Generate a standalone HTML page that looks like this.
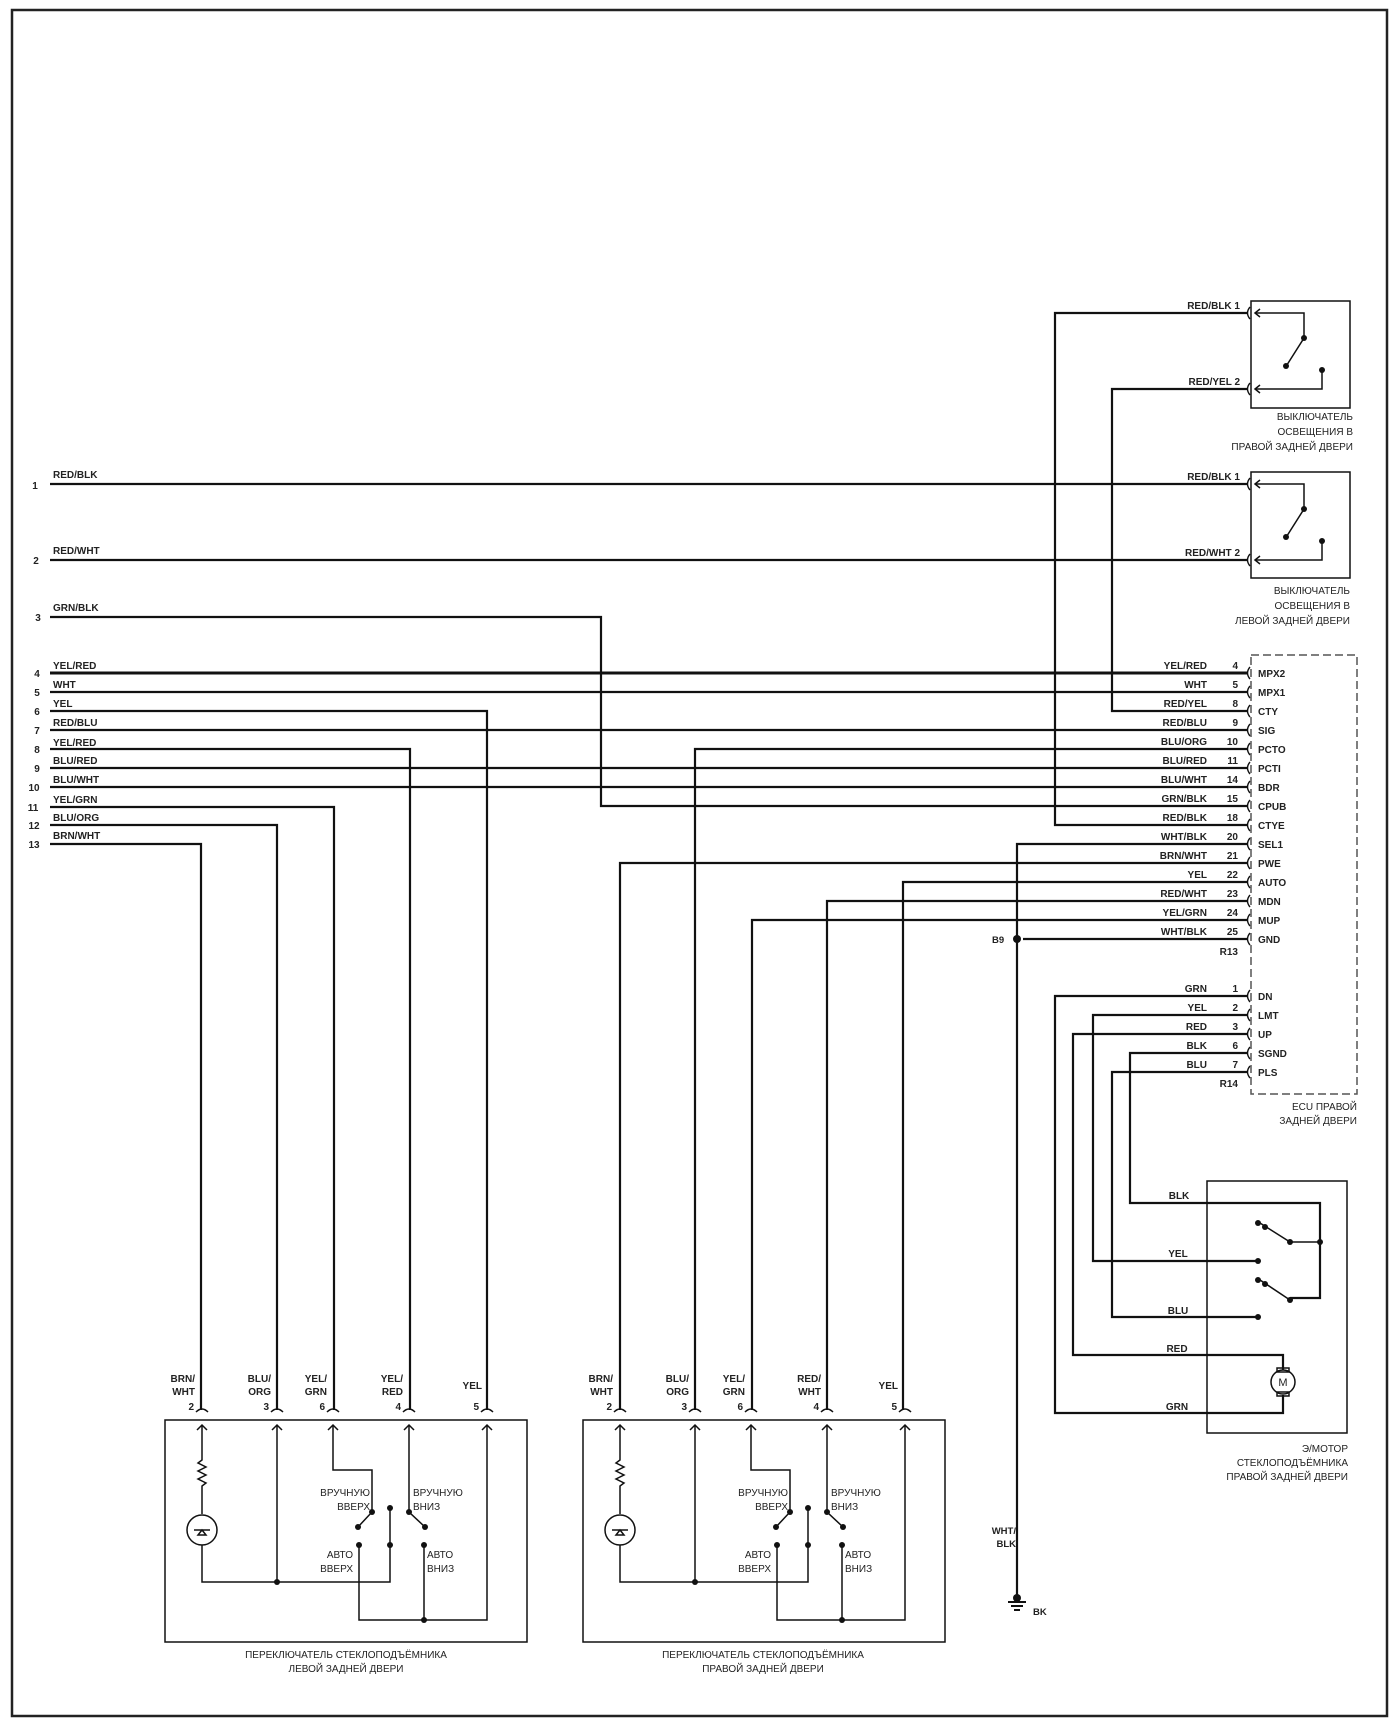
<!DOCTYPE html>
<html><head><meta charset="utf-8"><style>
html,body{margin:0;padding:0;background:#fff;}
svg{display:block;}
text{font-family:"Liberation Sans","DejaVu Sans",sans-serif;font-size:10px;fill:#222;}
.b{font-weight:bold;font-size:9.5px;}
.c{font-size:11px;}
</style></head><body>
<svg width="1400" height="1729" viewBox="0 0 1400 1729" xmlns="http://www.w3.org/2000/svg">
<rect x="12" y="10" width="1375" height="1706" fill="none" stroke="#222" stroke-width="2.5"/>
<g fill="none" stroke="#111" stroke-width="2.2">
<!-- left wires -->
<path d="M50 484H1247"/>
<path d="M50 560H1247"/>
<path d="M50 617H601V806H1247"/>
<path d="M50 673H1247" stroke-width="3"/>
<path d="M50 692H1247"/>
<path d="M50 711H487V1410"/>
<path d="M50 730H1247"/>
<path d="M50 749H410V1410"/>
<path d="M50 768H1247"/>
<path d="M50 787H1247"/>
<path d="M50 807H334V1410"/>
<path d="M50 825H277V1410"/>
<path d="M50 844H201V1410"/>
<!-- top switch wires -->
<path d="M1247 313H1055V825H1247"/>
<path d="M1247 389H1112V711H1247"/>
<!-- ECU to middle switch -->
<path d="M1247 749H695V1410"/>
<path d="M1247 863H620V1410"/>
<path d="M1247 882H903V1410"/>
<path d="M1247 901H827V1410"/>
<path d="M1247 920H752V1410"/>
<path d="M1247 844H1017V1600"/>
<path d="M1247 939H1023"/>
<!-- motor wires -->
<path d="M1247 996H1055V1413H1283V1395"/>
<path d="M1247 1015H1093V1261H1258"/>
<path d="M1247 1034H1073V1355H1283V1370"/>
<path d="M1247 1053H1130V1203H1320V1298H1290"/>
<path d="M1247 1072H1112V1317H1258"/>
</g>
<circle cx="1017" cy="939" r="4" fill="#111"/>
<text x="992" y="943" class="b">B9</text>
<!-- ground -->
<g stroke="#111" stroke-width="2" fill="none"><path d="M1008 1602H1026M1011 1606H1023M1014 1610H1020"/></g>
<circle cx="1017" cy="1598" r="4" fill="#111"/>
<text x="1033" y="1615" class="b">BK</text>
<text x="1016" y="1534" class="b" text-anchor="end">WHT/</text>
<text x="1016" y="1547" class="b" text-anchor="end">BLK</text>
<!-- left labels -->
<g class="b">
<text x="35" y="489" text-anchor="middle">1</text><text x="53" y="478">RED/BLK</text>
<text x="36" y="564" text-anchor="middle">2</text><text x="53" y="554">RED/WHT</text>
<text x="38" y="621" text-anchor="middle">3</text><text x="53" y="611">GRN/BLK</text>
<text x="37" y="677" text-anchor="middle">4</text><text x="53" y="669">YEL/RED</text>
<text x="37" y="696" text-anchor="middle">5</text><text x="53" y="688">WHT</text>
<text x="37" y="715" text-anchor="middle">6</text><text x="53" y="707">YEL</text>
<text x="37" y="734" text-anchor="middle">7</text><text x="53" y="726">RED/BLU</text>
<text x="37" y="753" text-anchor="middle">8</text><text x="53" y="746">YEL/RED</text>
<text x="37" y="772" text-anchor="middle">9</text><text x="53" y="764">BLU/RED</text>
<text x="34" y="791" text-anchor="middle">10</text><text x="53" y="783">BLU/WHT</text>
<text x="33" y="811" text-anchor="middle">11</text><text x="53" y="803">YEL/GRN</text>
<text x="34" y="829" text-anchor="middle">12</text><text x="53" y="821">BLU/ORG</text>
<text x="34" y="848" text-anchor="middle">13</text><text x="53" y="839">BRN/WHT</text>
</g>
<!-- connector arcs ECU and switches -->
<g fill="none" stroke="#111" stroke-width="1.5">
<path id="cn" d="M1252 0"/>
</g>
<g fill="none" stroke="#111" stroke-width="1.4">
<path d="M1250 307q-5 6 0 12M1250 383q-5 6 0 12M1250 478q-5 6 0 12M1250 554q-5 6 0 12"/>
<path d="M1250 667q-5 6 0 12M1250 686q-5 6 0 12M1250 705q-5 6 0 12M1250 724q-5 6 0 12M1250 743q-5 6 0 12M1250 762q-5 6 0 12M1250 781q-5 6 0 12M1250 800q-5 6 0 12M1250 819q-5 6 0 12M1250 838q-5 6 0 12M1250 857q-5 6 0 12M1250 876q-5 6 0 12M1250 895q-5 6 0 12M1250 914q-5 6 0 12M1250 933q-5 6 0 12"/>
<path d="M1250 990q-5 6 0 12M1250 1009q-5 6 0 12M1250 1028q-5 6 0 12M1250 1047q-5 6 0 12M1250 1066q-5 6 0 12"/>
</g>
<!-- top light switch -->
<g fill="none" stroke="#111" stroke-width="1.5">
<rect x="1251" y="301" width="99" height="107"/>
<path d="M1255 313H1304V338L1285 368"/><path d="M1260 309L1255 313L1260 317"/>
<path d="M1255 389H1322V370"/><path d="M1260 385L1255 389L1260 393"/>
<rect x="1251" y="472" width="99" height="106"/>
<path d="M1255 484H1304V509L1285 539"/><path d="M1260 480L1255 484L1260 488"/>
<path d="M1255 560H1322V541"/><path d="M1260 556L1255 560L1260 564"/>
</g>
<g fill="#111"><circle cx="1304" cy="338" r="3"/><circle cx="1286" cy="366" r="3"/><circle cx="1322" cy="370" r="3"/>
<circle cx="1304" cy="509" r="3"/><circle cx="1286" cy="537" r="3"/><circle cx="1322" cy="541" r="3"/></g>
<g class="b" text-anchor="end">
<text x="1240" y="309">RED/BLK  1</text><text x="1240" y="385">RED/YEL  2</text>
<text x="1240" y="480">RED/BLK  1</text><text x="1240" y="556">RED/WHT  2</text>
</g>
<g class="c" text-anchor="end">
<text x="1353" y="420">ВЫКЛЮЧАТЕЛЬ</text><text x="1353" y="435">ОСВЕЩЕНИЯ В</text><text x="1353" y="450">ПРАВОЙ ЗАДНЕЙ ДВЕРИ</text>
<text x="1350" y="594">ВЫКЛЮЧАТЕЛЬ</text><text x="1350" y="609">ОСВЕЩЕНИЯ В</text><text x="1350" y="624">ЛЕВОЙ ЗАДНЕЙ ДВЕРИ</text>
</g>
<!-- ECU -->
<rect x="1251" y="655" width="106" height="439" fill="none" stroke="#555" stroke-width="1.5" stroke-dasharray="8,4"/>
<g class="b" text-anchor="end">
<text x="1207" y="669">YEL/RED</text><text x="1238" y="669">4</text>
<text x="1207" y="688">WHT</text><text x="1238" y="688">5</text>
<text x="1207" y="707">RED/YEL</text><text x="1238" y="707">8</text>
<text x="1207" y="726">RED/BLU</text><text x="1238" y="726">9</text>
<text x="1207" y="745">BLU/ORG</text><text x="1238" y="745">10</text>
<text x="1207" y="764">BLU/RED</text><text x="1238" y="764">11</text>
<text x="1207" y="783">BLU/WHT</text><text x="1238" y="783">14</text>
<text x="1207" y="802">GRN/BLK</text><text x="1238" y="802">15</text>
<text x="1207" y="821">RED/BLK</text><text x="1238" y="821">18</text>
<text x="1207" y="840">WHT/BLK</text><text x="1238" y="840">20</text>
<text x="1207" y="859">BRN/WHT</text><text x="1238" y="859">21</text>
<text x="1207" y="878">YEL</text><text x="1238" y="878">22</text>
<text x="1207" y="897">RED/WHT</text><text x="1238" y="897">23</text>
<text x="1207" y="916">YEL/GRN</text><text x="1238" y="916">24</text>
<text x="1207" y="935">WHT/BLK</text><text x="1238" y="935">25</text>
<text x="1238" y="955">R13</text>
<text x="1207" y="992">GRN</text><text x="1238" y="992">1</text>
<text x="1207" y="1011">YEL</text><text x="1238" y="1011">2</text>
<text x="1207" y="1030">RED</text><text x="1238" y="1030">3</text>
<text x="1207" y="1049">BLK</text><text x="1238" y="1049">6</text>
<text x="1207" y="1068">BLU</text><text x="1238" y="1068">7</text>
<text x="1238" y="1087">R14</text>
</g>
<g class="b">
<text x="1258" y="677">MPX2</text><text x="1258" y="696">MPX1</text><text x="1258" y="715">CTY</text><text x="1258" y="734">SIG</text>
<text x="1258" y="753">PCTO</text><text x="1258" y="772">PCTI</text><text x="1258" y="791">BDR</text><text x="1258" y="810">CPUB</text>
<text x="1258" y="829">CTYE</text><text x="1258" y="848">SEL1</text><text x="1258" y="867">PWE</text><text x="1258" y="886">AUTO</text>
<text x="1258" y="905">MDN</text><text x="1258" y="924">MUP</text><text x="1258" y="943">GND</text>
<text x="1258" y="1000">DN</text><text x="1258" y="1019">LMT</text><text x="1258" y="1038">UP</text><text x="1258" y="1057">SGND</text><text x="1258" y="1076">PLS</text>
</g>
<g class="c" text-anchor="end"><text x="1357" y="1110">ECU  ПРАВОЙ</text><text x="1357" y="1124">ЗАДНЕЙ ДВЕРИ</text></g>
<!-- motor -->
<g fill="none" stroke="#111" stroke-width="1.5">
<rect x="1207" y="1181" width="140" height="252"/>
<path d="M1260 1223L1290 1242H1320"/>
<path d="M1260 1280L1290 1300"/>
<circle cx="1283" cy="1382" r="12"/>
<rect x="1277" y="1368" width="12" height="4"/><rect x="1277" y="1392" width="12" height="4"/>
</g>
<g fill="#111"><circle cx="1258" cy="1223" r="3"/><circle cx="1265" cy="1227" r="3"/><circle cx="1290" cy="1242" r="3"/><circle cx="1320" cy="1242" r="3"/>
<circle cx="1258" cy="1261" r="3"/><circle cx="1258" cy="1280" r="3"/><circle cx="1265" cy="1284" r="3"/><circle cx="1290" cy="1300" r="3"/><circle cx="1258" cy="1317" r="3"/></g>
<text x="1283" y="1386" text-anchor="middle" class="c">M</text>
<g class="b" text-anchor="middle"><text x="1179" y="1199">BLK</text><text x="1178" y="1257">YEL</text><text x="1178" y="1314">BLU</text><text x="1177" y="1352">RED</text><text x="1177" y="1410">GRN</text></g>
<g class="c" text-anchor="end"><text x="1348" y="1452">Э/МОТОР</text><text x="1348" y="1466">СТЕКЛОПОДЪЁМНИКА</text><text x="1348" y="1480">ПРАВОЙ ЗАДНЕЙ ДВЕРИ</text></g>
<!-- window switches -->
<g id="sw">
<g fill="none" stroke="#111" stroke-width="1.5">
<rect x="165" y="1420" width="362" height="222"/>
<path d="M196 1412q6-6 12 0M271 1412q6-6 12 0M327 1412q6-6 12 0M403 1412q6-6 12 0M481 1412q6-6 12 0"/>
<path d="M197 1430l5-5l5 5M272 1430l5-5l5 5M328 1430l5-5l5 5M404 1430l5-5l5 5M482 1430l5-5l5 5"/>
<path d="M202 1426V1460l-4 3l8 4l-8 4l8 4l-8 4l8 4l-4 3V1514"/>
<circle cx="202" cy="1530" r="15"/>
<path d="M194 1530h16M202 1530l-4 5h8z"/>
<path d="M202 1545V1582H390V1545"/>
<path d="M277 1426V1582"/>
<path d="M333 1426V1470H372V1512L358 1527"/>
<path d="M390 1508V1545"/>
<path d="M409 1426V1512L425 1527"/>
<path d="M359 1545V1620H487V1426"/>
<path d="M424 1545V1620"/>
</g>
<g fill="#111"><circle cx="277" cy="1582" r="3"/><circle cx="372" cy="1512" r="3"/><circle cx="358" cy="1527" r="3"/><circle cx="390" cy="1508" r="3"/><circle cx="390" cy="1545" r="3"/>
<circle cx="409" cy="1512" r="3"/><circle cx="425" cy="1527" r="3"/><circle cx="359" cy="1545" r="3"/><circle cx="424" cy="1545" r="3"/><circle cx="424" cy="1620" r="3"/></g>
<g class="b" text-anchor="end"><text x="194" y="1410">2</text><text x="269" y="1410">3</text><text x="325" y="1410">6</text><text x="401" y="1410">4</text><text x="479" y="1410">5</text></g>
<g class="c">
<text x="370" y="1496" text-anchor="end">ВРУЧНУЮ</text><text x="370" y="1510" text-anchor="end">ВВЕРХ</text>
<text x="413" y="1496">ВРУЧНУЮ</text><text x="413" y="1510">ВНИЗ</text>
<text x="353" y="1558" text-anchor="end">АВТО</text><text x="353" y="1572" text-anchor="end">ВВЕРХ</text>
<text x="427" y="1558">АВТО</text><text x="427" y="1572">ВНИЗ</text>
</g>
</g>
<g class="b" text-anchor="end">
<text x="195" y="1382">BRN/</text><text x="195" y="1395">WHT</text>
<text x="271" y="1382">BLU/</text><text x="271" y="1395">ORG</text>
<text x="327" y="1382">YEL/</text><text x="327" y="1395">GRN</text>
<text x="403" y="1382">YEL/</text><text x="403" y="1395">RED</text>
<text x="482" y="1389">YEL</text>
</g>
<g class="c" text-anchor="middle"><text x="346" y="1658">ПЕРЕКЛЮЧАТЕЛЬ СТЕКЛОПОДЪЁМНИКА</text><text x="346" y="1672">ЛЕВОЙ ЗАДНЕЙ ДВЕРИ</text></g>
<use href="#sw" x="418" y="0"/>
<g class="b" text-anchor="end">
<text x="613" y="1382">BRN/</text><text x="613" y="1395">WHT</text>
<text x="689" y="1382">BLU/</text><text x="689" y="1395">ORG</text>
<text x="745" y="1382">YEL/</text><text x="745" y="1395">GRN</text>
<text x="821" y="1382">RED/</text><text x="821" y="1395">WHT</text>
<text x="898" y="1389">YEL</text>
</g>
<g class="c" text-anchor="middle"><text x="763" y="1658">ПЕРЕКЛЮЧАТЕЛЬ СТЕКЛОПОДЪЁМНИКА</text><text x="763" y="1672">ПРАВОЙ ЗАДНЕЙ ДВЕРИ</text></g>
</svg>
</body></html>
